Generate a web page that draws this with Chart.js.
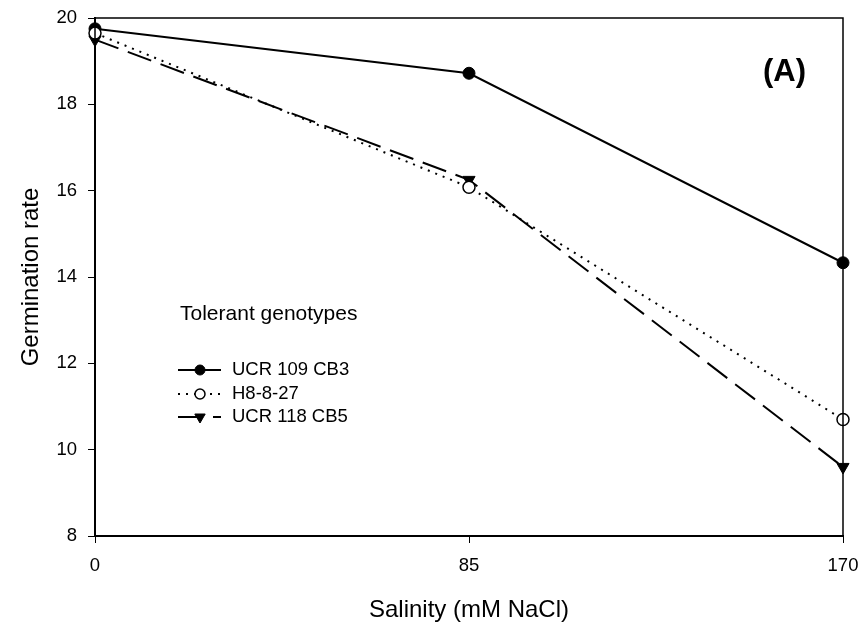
<!DOCTYPE html>
<html>
<head>
<meta charset="utf-8">
<script src="https://cdn.jsdelivr.net/npm/chart.js@4/dist/chart.umd.min.js"></script>
<style>
  body { margin: 0; background: #fff; }
  canvas { display: block; }
</style>
</head>
<body>
<canvas id="chart" width="864" height="629"></canvas>
<script>
// salinity levels and germination rate per genotype
const salinity = [0, 85, 170];
const ucr109 = [19.75, 18.72, 14.33];
const h8 = [19.65, 16.08, 10.7];
const ucr118 = [19.5, 16.25, 9.6];
const genotypes = ['UCR 109 CB3', 'H8-8-27', 'UCR 118 CB5'];
const yTicks = [8, 10, 12, 14, 16, 18, 20];
const legendTitle = 'Tolerant genotypes';
const panelTag = '(A)';

const FONT = "'Liberation Sans', Arial, sans-serif";

function pts(vals) {
    return salinity.map((x, i) => ({ x: x, y: vals[i] }));
}

const datasets = [
    {
        label: genotypes[0], data: pts(ucr109), order: 1,
        borderColor: '#000', borderWidth: 2, borderDash: [],
        pointStyle: 'circle', pointRadius: 6,
        pointBackgroundColor: '#000', pointBorderColor: '#000', pointBorderWidth: 1
    },
    {
        label: genotypes[1], data: pts(h8), order: 0,
        borderColor: '#000', borderWidth: 2, borderDash: [2, 6],
        pointStyle: 'circle', pointRadius: 6,
        pointBackgroundColor: '#fff', pointBorderColor: '#000', pointBorderWidth: 1.5
    },
    {
        label: genotypes[2], data: pts(ucr118), order: 2,
        borderColor: '#000', borderWidth: 2, borderDash: [25, 10],
        pointStyle: 'triangle', pointRotation: 180, pointRadius: 7,
        pointBackgroundColor: '#000', pointBorderColor: '#000', pointBorderWidth: 1
    }
];
datasets.forEach(d => { d.clip = false; d.tension = 0; d.fill = false; });

// box around the plot, legend block and panel letter
const extras = {
    id: 'extras',
    afterDatasetsDraw(chart) {
        const ctx = chart.ctx;
        const a = chart.chartArea;
        ctx.save();
        ctx.strokeStyle = '#000';
        ctx.lineWidth = 1.5;
        ctx.strokeRect(a.left, a.top, a.right - a.left, a.bottom - a.top);

        ctx.fillStyle = '#000';
        ctx.textBaseline = 'middle';
        ctx.textAlign = 'left';
        ctx.font = '21px ' + FONT;
        ctx.fillText(legendTitle, 180, 314);

        const rowY = [370, 394, 417];
        chart.data.datasets.forEach((d, i) => {
            const y = rowY[i];
            ctx.save();
            ctx.lineWidth = d.borderWidth;
            ctx.setLineDash(d.borderDash);
            ctx.beginPath();
            ctx.moveTo(178, y);
            ctx.lineTo(221, y);
            ctx.stroke();
            ctx.restore();
            ctx.fillStyle = d.pointBackgroundColor;
            ctx.strokeStyle = d.pointBorderColor;
            ctx.lineWidth = d.pointBorderWidth;
            Chart.helpers.drawPoint(ctx, {
                pointStyle: d.pointStyle,
                rotation: d.pointRotation || 0,
                radius: d.pointRadius - 1,
                borderWidth: d.pointBorderWidth
            }, 200, y);
            ctx.fillStyle = '#000';
            ctx.font = '18.5px ' + FONT;
            ctx.fillText(d.label, 232, y);
        });

        ctx.font = 'bold 31px ' + FONT;
        ctx.fillText(panelTag, 763, 72);
        ctx.restore();
    }
};

new Chart(document.getElementById('chart'), {
    type: 'line',
    data: { datasets: datasets },
    options: {
        responsive: false,
        animation: false,
        events: [],
        layout: { padding: { top: 18, right: 21, left: 0, bottom: 0 } },
        plugins: { legend: { display: false }, tooltip: { enabled: false } },
        scales: {
            x: {
                type: 'linear', min: 0, max: 170,
                afterBuildTicks: s => { s.ticks = salinity.map(v => ({ value: v })); },
                afterFit: s => { s.height = 93; s.paddingLeft = 0; s.paddingRight = 0; },
                grid: { drawOnChartArea: false, drawTicks: true, tickLength: 7, color: '#000', lineWidth: 1 },
                border: { display: true, color: '#000', width: 2 },
                ticks: { color: '#000', padding: 12, maxRotation: 0, font: { family: FONT, size: 18.5 } },
                title: { display: true, text: 'Salinity (mM NaCl)', color: '#000', padding: { top: 0, bottom: 4 }, font: { family: FONT, size: 24 } }
            },
            y: {
                min: 8, max: 20,
                afterBuildTicks: s => { s.ticks = yTicks.map(v => ({ value: v })); },
                afterFit: s => { s.width = 95; s.paddingTop = 0; s.paddingBottom = 0; },
                grid: { drawOnChartArea: false, drawTicks: true, tickLength: 7, color: '#000', lineWidth: 1 },
                border: { display: true, color: '#000', width: 2 },
                ticks: { color: '#000', padding: 11, font: { family: FONT, size: 18.5 } },
                title: { display: true, text: 'Germination rate', color: '#000', padding: { top: 17, bottom: 0 }, font: { family: FONT, size: 24 } }
            }
        }
    },
    plugins: [extras]
});
</script>
</body>
</html>
